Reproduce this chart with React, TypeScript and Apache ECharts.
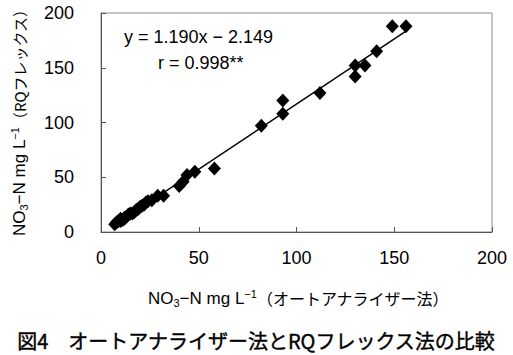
import React, { useEffect, useRef } from "react";
import * as echarts from "echarts";

const xValues = [7, 8, 9, 10, 10, 11, 12, 12, 13, 14, 15, 16, 17, 18, 19, 20, 21, 22, 23, 24, 26, 29, 32, 40, 42, 44, 48, 58, 82, 93, 93, 112, 130, 130, 135, 141, 149, 156];
const yValues = [7, 9, 10, 12, 10, 11, 13, 12, 14, 16, 17, 17, 18, 20, 21, 23, 24, 25, 27, 28, 29, 33, 33, 42, 46, 52, 55, 58, 97, 108, 120, 127, 142, 152, 152, 165, 188, 188];
const slope = 1.19;
const intercept = -2.149;
const fitRange = [8, 156];
const axisTicks = [0, 50, 100, 150, 200];

const NUM_FONT = "'Liberation Sans', Arial, sans-serif";
const JP_FONT = "'Noto Sans CJK JP', 'Liberation Sans', sans-serif";

export default function App() {
  const ref = useRef<HTMLDivElement>(null);
  useEffect(() => {
    if (!ref.current) return;
    const chart = echarts.init(ref.current, null, { renderer: "svg" });
    const points = xValues.map((x, i) => [x, yValues[i]]);
    const fitLine = fitRange.map((x) => [x, slope * x + intercept]);
    const makeRich = (jpSize: number) => ({
      n: { fontSize: 17, fontFamily: NUM_FONT, color: "#000", lineHeight: 24, verticalAlign: "middle" as const },
      sub: { fontSize: 11, fontFamily: NUM_FONT, color: "#000", lineHeight: 24, verticalAlign: "bottom" as const, padding: [0, 0, 2, 0] },
      sup: { fontSize: 11, fontFamily: NUM_FONT, color: "#000", lineHeight: 24, verticalAlign: "top" as const, padding: [2, 0, 0, 0] },
      j: { fontSize: jpSize, fontFamily: JP_FONT, color: "#000", lineHeight: 24, verticalAlign: "middle" as const },
    });
    chart.setOption({
      animation: false,
      backgroundColor: "#fff",
      grid: { left: 101, right: 21, top: 13, bottom: 123, show: true, borderColor: "#8a8a8a", borderWidth: 1 },
      xAxis: {
        type: "value",
        min: axisTicks[0],
        max: axisTicks[axisTicks.length - 1],
        interval: 50,
        splitLine: { show: false },
        axisLine: { show: true, lineStyle: { color: "#555", width: 1 } },
        axisTick: { show: true, inside: true, length: 5, lineStyle: { color: "#555" } },
        axisLabel: { fontSize: 18, fontFamily: NUM_FONT, color: "#000", margin: 17 },
      },
      yAxis: {
        type: "value",
        min: axisTicks[0],
        max: axisTicks[axisTicks.length - 1],
        interval: 50,
        splitLine: { show: false },
        axisLine: { show: true, lineStyle: { color: "#555", width: 1 } },
        axisTick: { show: true, inside: true, length: 5, lineStyle: { color: "#555" } },
        axisLabel: { fontSize: 18, fontFamily: NUM_FONT, color: "#000", margin: 27 },
      },
      graphic: [
        {
          type: "text",
          x: 148,
          y: 286,
          style: {
            text: "{n|NO}{sub|3}{n|−N mg L}{sup|−1}{j|（オートアナライザー法）}",
            rich: makeRich(16),
            fill: "#000",
          },
        },
        {
          type: "text",
          x: 7,
          y: 236,
          rotation: Math.PI / 2,
          style: {
            text: "{n|NO}{sub|3}{n|−N mg L}{sup|−1}{j|（RQフレックス）}",
            rich: makeRich(15),
            fill: "#000",
          },
        },
        {
          type: "text",
          x: 256,
          y: 340,
          style: {
            text: "図4　オートアナライザー法とRQフレックス法の比較",
            fontSize: 20,
            fontWeight: "normal",
            fontFamily: JP_FONT,
            fill: "#000",
            stroke: "#000",
            lineWidth: 0.4,
            align: "center",
            verticalAlign: "middle",
          },
        },
        {
          type: "text",
          x: 124,
          y: 37,
          style: {
            text: "y = 1.190x − 2.149",
            fontSize: 18,
            fontFamily: NUM_FONT,
            fill: "#000",
            verticalAlign: "middle",
          },
        },
        {
          type: "text",
          x: 158,
          y: 63,
          style: {
            text: "r = 0.998**",
            fontSize: 18,
            fontFamily: NUM_FONT,
            fill: "#000",
            verticalAlign: "middle",
          },
        },
      ],
      series: [
        {
          type: "line",
          data: fitLine,
          symbol: "none",
          lineStyle: { color: "#000", width: 1.5 },
          z: 2,
        },
        {
          type: "scatter",
          data: points,
          symbol: "diamond",
          symbolSize: [13, 14],
          itemStyle: { color: "#000", opacity: 1 },
          emphasis: { disabled: true },
          z: 3,
        },
      ],
    });
    return () => chart.dispose();
  }, []);
  return <div ref={ref} style={{ position: "absolute", left: 0, top: 0, width: 513, height: 355 }} />;
}
